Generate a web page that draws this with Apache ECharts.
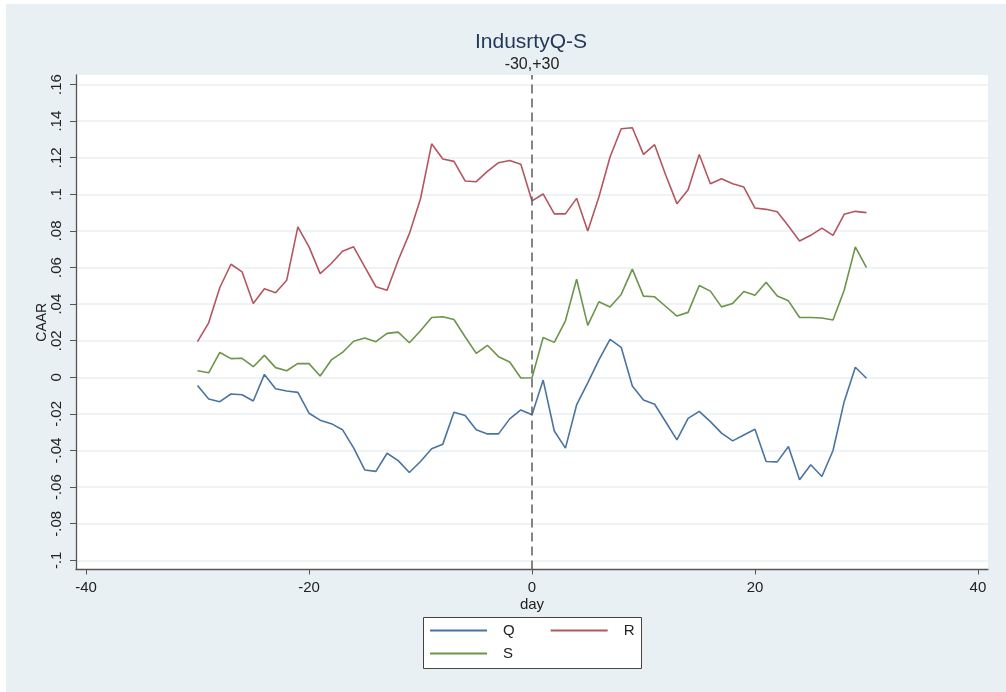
<!DOCTYPE html>
<html>
<head>
<meta charset="utf-8">
<script src="https://cdn.jsdelivr.net/npm/echarts@6/dist/echarts.min.js"></script>
<style>
  html, body { margin: 0; padding: 0; background: #ffffff; }
  #chart { width: 1006px; height: 692px; }
</style>
</head>
<body>
<div id="chart"></div>
<script>
// Event window in days
const days = [];
for (let d = -30; d <= 30; d++) days.push(d);

// Cumulative average abnormal returns per group
const caarQ = [
  -0.0045, -0.0118, -0.0133, -0.0091, -0.0095, -0.0129, 0.0016, -0.0062, -0.0075, -0.0082,
  -0.0196, -0.0234, -0.0253, -0.0286, -0.0385, -0.0506, -0.0514, -0.0415, -0.0455, -0.0520,
  -0.0460, -0.0390, -0.0365, -0.0191, -0.0209, -0.0287, -0.0309, -0.0309, -0.0227, -0.0178,
  -0.0205,
  -0.0015, -0.0293, -0.0387, -0.0151, -0.0030, 0.0095, 0.0207, 0.0164, -0.0047, -0.0124,
  -0.0147, -0.0244, -0.0342, -0.0224, -0.0186, -0.0242, -0.0305, -0.0347, -0.0315, -0.0284,
  -0.0460, -0.0462, -0.0378, -0.0560, -0.0478, -0.0542, -0.0400, -0.0133, 0.0055, -0.0005
];
const caarR = [
  0.0195, 0.0298, 0.0491, 0.0618, 0.0576, 0.0404, 0.0484, 0.0462, 0.0531, 0.0822,
  0.0713, 0.0567, 0.0622, 0.0689, 0.0713, 0.0604, 0.0495, 0.0476, 0.0640, 0.0785,
  0.0976, 0.1276, 0.1193, 0.1180, 0.1073, 0.1069, 0.1125, 0.1173, 0.1185, 0.1164,
  0.0964,
  0.1002, 0.0893, 0.0893, 0.0978, 0.0800, 0.0985, 0.1204, 0.1358, 0.1364, 0.1218,
  0.1271, 0.1104, 0.0949, 0.1025, 0.1218, 0.1058, 0.1085, 0.1058, 0.1040, 0.0925,
  0.0918, 0.0905, 0.0827, 0.0745, 0.0776, 0.0815, 0.0776, 0.0891, 0.0907, 0.0900
];
const caarS = [
  0.0036, 0.0025, 0.0136, 0.0102, 0.0104, 0.0058, 0.0120, 0.0053, 0.0036, 0.0076,
  0.0075, 0.0007, 0.0095, 0.0136, 0.0197, 0.0215, 0.0195, 0.0240, 0.0247, 0.0189,
  0.0255, 0.0327, 0.0331, 0.0316, 0.0222, 0.0131, 0.0175, 0.0113, 0.0084, -0.0004,
  -0.0002,
  0.0218, 0.0191, 0.0309, 0.0536, 0.0284, 0.0413, 0.0384, 0.0453, 0.0591, 0.0444,
  0.0440, 0.0387, 0.0335, 0.0355, 0.0502, 0.0471, 0.0385, 0.0404, 0.0469, 0.0449,
  0.0520, 0.0444, 0.0418, 0.0327, 0.0327, 0.0324, 0.0313, 0.0476, 0.0713, 0.0600
];

// Axis ticks and their labels
const xTicks = [-40, -20, 0, 20, 40];
const yTicks = [-0.1, -0.08, -0.06, -0.04, -0.02, 0, 0.02, 0.04, 0.06, 0.08, 0.1, 0.12, 0.14, 0.16];
const yTickLabels = ['-.1', '-.08', '-.06', '-.04', '-.02', '0', '.02', '.04', '.06', '.08', '.1', '.12', '.14', '.16'];

const FONT = "'Liberation Sans', Arial, sans-serif";
const colors = { Q: '#4a74a0', R: '#b4565f', S: '#6c944a' };

function pairs(vals) { return days.map((d, i) => [d, vals[i]]); }
function yLabel(v) {
  for (let i = 0; i < yTicks.length; i++) {
    if (Math.abs(yTicks[i] - v) < 1e-9) return yTickLabels[i];
  }
  return '';
}

const chart = echarts.init(document.getElementById('chart'), null, { renderer: 'canvas' });

const legendText = { color: '#222', fontSize: 15, fontFamily: FONT, padding: [0, 0, 0, 11] };

chart.setOption({
  animation: false,
  textStyle: { fontFamily: FONT },
  title: [
    {
      text: 'IndusrtyQ-S',
      left: 531, top: 32, padding: 0, textAlign: 'center',
      textStyle: { fontSize: 21, fontWeight: 'normal', color: '#25385a', fontFamily: FONT }
    },
    {
      text: '-30,+30',
      left: 532, top: 57, padding: 0, textAlign: 'center',
      textStyle: { fontSize: 16, fontWeight: 'normal', color: '#222', fontFamily: FONT }
    }
  ],
  graphic: [
    { type: 'rect', z: -20, silent: true,
      shape: { x: 6, y: 4, width: 1000, height: 688 },
      style: { fill: '#e9f0f3' } },
    { type: 'rect', z: 5, silent: true,
      shape: { x: 423.5, y: 617.5, width: 218, height: 51 },
      style: { fill: '#ffffff', stroke: '#444', lineWidth: 1 } }
  ],
  legend: [
    { data: ['Q', 'R'], left: 430, top: 623, padding: 0, z: 10,
      icon: 'rect', itemWidth: 57, itemHeight: 2, itemGap: 36,
      textStyle: legendText },
    { data: ['S'], left: 430, top: 646, padding: 0, z: 10,
      icon: 'rect', itemWidth: 57, itemHeight: 2,
      textStyle: legendText }
  ],
  grid: {
    left: 76, right: 18, top: 75, bottom: 122.5,
    show: true, backgroundColor: '#ffffff', borderWidth: 0
  },
  xAxis: {
    type: 'value',
    min: -40.9, max: 40.9,
    name: 'day', nameLocation: 'middle', nameGap: 28, nameMoveOverlap: false,
    nameTextStyle: { fontSize: 15, color: '#222' },
    axisLine: { show: true, onZero: false, lineStyle: { color: '#555', width: 1.3 } },
    axisTick: { show: true, length: 5, customValues: xTicks, lineStyle: { color: '#555' } },
    axisLabel: { customValues: xTicks, fontSize: 15, color: '#222', margin: 11 },
    splitLine: { show: false }
  },
  yAxis: {
    type: 'value',
    min: -0.105, max: 0.1652,
    name: 'CAAR', nameLocation: 'middle', nameRotate: 90, nameGap: 27, nameMoveOverlap: false,
    nameTextStyle: { fontSize: 14, color: '#222' },
    axisLine: { show: true, onZero: false, lineStyle: { color: '#555', width: 1.3 } },
    axisTick: { show: true, length: 6, customValues: yTicks, lineStyle: { color: '#555' } },
    axisLabel: { customValues: yTicks, rotate: 90, fontSize: 15, color: '#222', margin: 12,
                 formatter: yLabel },
    splitLine: { show: true, customValues: yTicks, lineStyle: { color: '#e8eff2', width: 1.5 } }
  },
  series: [
    { name: 'Q', type: 'line', data: pairs(caarQ), showSymbol: false, symbol: 'none',
      color: colors.Q, lineStyle: { width: 1.6 },
      markLine: {
        silent: true, symbol: 'none', label: { show: false },
        lineStyle: { color: '#666', type: [9, 5], width: 1.6 },
        data: [{ xAxis: 0 }]
      } },
    { name: 'R', type: 'line', data: pairs(caarR), showSymbol: false, symbol: 'none',
      color: colors.R, lineStyle: { width: 1.6 } },
    { name: 'S', type: 'line', data: pairs(caarS), showSymbol: false, symbol: 'none',
      color: colors.S, lineStyle: { width: 1.6 } }
  ]
});
</script>
</body>
</html>
